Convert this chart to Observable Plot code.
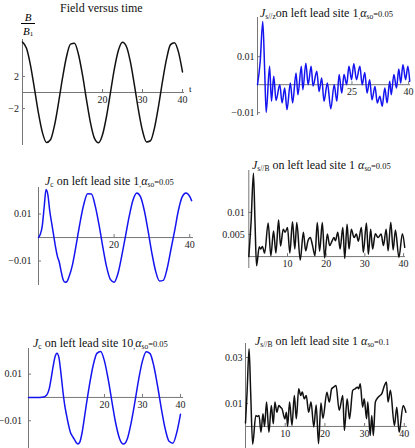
<!DOCTYPE html>
<html><head><meta charset="utf-8">
<script src="https://cdn.jsdelivr.net/npm/d3@7"></script>
<script src="https://cdn.jsdelivr.net/npm/@observablehq/plot@0.6"></script>
<style>
body{margin:0;background:#fff;}
#root{position:relative;width:415px;height:448px;overflow:hidden;font-family:"Liberation Serif","Times New Roman",Times,serif;color:#000;}
.panel{position:absolute;}
.title{position:absolute;white-space:nowrap;font-size:12px;line-height:14px;color:#111;}
.title sub{font-size:7.5px;vertical-align:-2px;line-height:0;}
.title .sm{font-size:8.5px;}
.frac{position:absolute;font-size:11px;line-height:11px;text-align:center;}
.frac sub{font-size:7px;vertical-align:-1px;line-height:0;}
.lab{position:absolute;font-size:9px;line-height:10px;}
</style></head><body><div id="root"></div>
<script>
// ---- data ----
const fieldT = [0,1,2,3,4,5,6,7,8,9,10,11,12,13,14,15,16,17,18,19,20,21,22,23,24,25,26,27,28,29,30,31,32,33,34,35,36,37,38,39,40];
const fieldB = [6.28,5.51,3.39,0.44,-2.61,-5.03,-6.22,-5.88,-4.10,-1.32,1.78,4.45,6.03,6.13,4.73,2.18,-0.91,-3.78,-5.72,-6.26,-5.27,-2.99,0.03,3.04,5.30,6.27,5.70,3.74,0.86,-2.23,-4.77,-6.15,-6.01,-4.41,-1.73,1.38,4.15,5.96,6.21,5.03,2.56];

const jszSite1 = [[0,0],[0.7,0.008],[1.4,0.0226],[1.9,0.005],[2.3,-0.0099],[3.2,0.0066],[3.7,-0.0059],[4.3,0.003],[4.9,-0.0056],[5.9,0],[6.5,-0.0065],[7.2,-0.0012],[7.8,-0.0089],[8.7,0.0006],[9.3,-0.0065],[10.2,0.0042],[10.7,-0.0036],[11.6,0.0066],[12.0,-0.0018],[12.8,0.0077],[13.4,0],[14.2,0.0066],[14.7,-0.0005],[15.7,0.0048],[16.3,-0.0024],[17.0,0.0024],[17.6,-0.0059],[18.5,0.0006],[19.4,-0.0086],[20.3,0],[21.0,-0.0059],[21.6,0.0036],[22.3,-0.003],[22.9,0.0036],[23.6,0],[24.2,0.0066],[24.9,0.0018],[25.5,0.0075],[26.2,0.0018],[27.1,0.0066],[27.7,0],[28.4,0.0044],[29.0,-0.003],[29.7,0.0018],[30.3,-0.0054],[31.1,-0.0006],[31.7,-0.0065],[32.4,-0.0041],[33.0,-0.0077],[33.7,-0.0012],[34.3,-0.0065],[35.0,0.0012],[35.4,-0.0036],[36.1,0.0036],[36.8,-0.0012],[37.4,0.0056],[37.9,0.0006],[38.5,0.0071],[39.2,0.0018],[39.8,0.0066],[40.3,0.0012]];

const jcSite1 = [[0,0],[0.5,0.0015],[1,0.005],[1.5,0.013],[2,0.0204],[2.5,0.018],[3,0.011],[3.5,0.006],[4,0.001],[4.5,-0.004],[5,-0.008],[5.5,-0.0105],[6,-0.0145],[6.5,-0.0178],[7,-0.019],[7.5,-0.0188],[8,-0.017],[9,-0.0115],[10,-0.0028],[11,0.0065],[12,0.0143],[13,0.0186],[14,0.0185],[15,0.0135],[16,0.0055],[17,-0.0039],[18,-0.0124],[19,-0.0178],[20,-0.019],[21,-0.0154],[22,-0.008],[23,0.0005],[24,0.0091],[25,0.016],[26,0.019],[27,0.0173],[28,0.0114],[29,0.0027],[30,-0.0067],[31,-0.0144],[32,-0.0185],[33,-0.0182],[34,-0.0134],[35,-0.0053],[36,0.0028],[37,0.0115],[38,0.0173],[39,0.019],[40,0.0175],[40.5,0.0157]];

const jsbSite1a = [[0,0],[0.6,0.008],[1.2,0.0189],[1.6,0.008],[2.0,-0.0021],[2.7,0.0022],[3.1,0.0017],[3.5,0.0023],[4.1,0.0008],[5.0,0.0076],[5.7,0.0002],[6.4,0.0058],[7.0,0.0008],[7.7,0.0083],[8.2,0.0024],[8.9,0.0062],[9.4,0.0055],[10.0,0.0066],[10.6,0.0008],[11.3,0.0079],[11.9,0.0017],[12.4,0.0077],[13.3,-0.0008],[14.1,0.0055],[14.7,0.0013],[15.3,0.0036],[15.9,0.0043],[16.4,0.0028],[17.1,0.0002],[17.7,0.0077],[18.3,0.0012],[19.0,0.0077],[19.6,-0.0003],[20.3,0.0051],[20.9,0.0025],[21.5,0.0035],[22.0,0.0043],[22.4,0.0036],[23.0,0.0055],[23.6,0.0017],[24.3,0.0066],[24.8,-0.0004],[25.4,0.0073],[25.9,0.0017],[26.5,0.0062],[27.2,0.0043],[27.8,0.0051],[28.3,0.0035],[29.1,0.0066],[29.6,0.0009],[30.4,0.0076],[30.9,0.0005],[31.5,0.0062],[32.0,0.0017],[32.7,0.0052],[33.4,0.0043],[34.2,0.0051],[34.8,0.0025],[35.5,0.0062],[36.0,0.0013],[36.7,0.0078],[37.3,0.0015],[37.9,0.006],[38.8,-0.0002],[39.7,0.0052],[40.3,0.0021]];

const jcSite10 = [[0,0],[1,0],[2,0],[3,0],[4,0.0002],[4.5,0.0006],[5,0.0016],[5.5,0.004],[6,0.0085],[6.5,0.0135],[7,0.0175],[7.5,0.019],[8,0.0172],[8.5,0.011],[9,0.0035],[9.5,-0.003],[10,-0.0075],[10.5,-0.0115],[11,-0.0148],[11.5,-0.0165],[12,-0.0178],[12.5,-0.0192],[13,-0.02],[13.5,-0.0192],[14,-0.016],[15,-0.0055],[16,0.0049],[17,0.0136],[18,0.0189],[19,0.0197],[20,0.0156],[21,0.0076],[22,-0.0022],[23,-0.0114],[24,-0.0178],[25,-0.02],[26,-0.0178],[27,-0.011],[28,-0.002],[29,0.0078],[30,0.0157],[31,0.0196],[32,0.0188],[33,0.0134],[34,0.0047],[35,-0.0051],[36,-0.0136],[37,-0.0188],[38,-0.0196],[39,-0.0152],[40,-0.0072]];

const jsbSite1b = [[0,0.0015],[0.4,0.015],[0.9,0.0338],[1.3,0.015],[1.8,-0.0078],[2.6,0.0048],[3.0,0.0043],[3.4,0.0048],[3.9,-0.0025],[4.4,0.0055],[4.8,0],[5.3,0.0106],[5.9,-0.0025],[6.5,0.0091],[7.0,0.0012],[7.4,0.0106],[7.9,0.0062],[8.4,0.0091],[8.8,0.0084],[9.2,0.0077],[9.9,0.0033],[10.3,0.0062],[10.6,0.0],[11.1,0.0106],[11.7,0.0004],[12.3,0.0135],[12.8,0.0033],[13.4,0.0164],[13.9,0.0135],[14.3,0.015],[14.8,0.012],[15.3,0.0135],[15.9,0.0062],[16.5,0.0106],[17.2,-0.0002],[17.8,0.0093],[18.4,-0.0075],[19.0,0.0102],[19.5,0.0035],[20.5,0.0149],[21.1,0.0106],[21.7,0.0164],[22.2,0.0171],[22.8,0.0178],[23.6,0.007],[24.5,0.0135],[24.9,-0.0017],[25.6,0.012],[26.2,0.0033],[27.0,0.0157],[27.6,0.0164],[28.2,0.0171],[28.5,0.0164],[28.9,0.0186],[29.5,0.0084],[29.9,0.012],[30.5,0.0033],[30.8,0.0106],[31.4,-0.0039],[31.8,0.0048],[32.2,-0.0039],[32.7,0.0106],[33.3,0.0125],[33.9,0.0135],[34.3,0.0142],[35.0,0.0178],[35.5,0.0193],[35.9,0.0106],[36.5,0.0157],[37.5,0.0004],[38.1,0.0084],[38.7,-0.0025],[39.7,0.0091],[40.4,0.0062]];

// tick labels
const p1XTicks = [20,30,40], p1YTicks = [2,-2];
const p2XTicks = [25,40], p2YTicks = [0.01,-0.01];
const p3XTicks = [20,40], p3YTicks = [0.01,-0.01];
const p4XTicks = [10,20,30,40], p4YTicks = [0.01,0.005];
const p5XTicks = [20,30,40], p5YTicks = [0.01,-0.01];
const p6XTicks = [10,20,30,40], p6YTicks = [0.03,0.01];

// ---- drawing ----
const AX = "#777", LAB = "#222", FONT = "Liberation Serif";
const fmt = d => String(d).replace("-", "\u2212");

function panel(o) {
  const marks = [
    Plot.ruleY([0], {stroke: AX, strokeWidth: 1}),
    Plot.ruleX([0], {stroke: AX, strokeWidth: 1}),
    Plot.ruleX(o.xt, {x: d => d, y1: () => 0, y2: () => 0, insetTop: -3, stroke: AX}),
    Plot.ruleY(o.yt, {y: d => d, x1: () => 0, x2: () => 0, insetRight: -3, stroke: AX}),
    Plot.text(o.xt, {x: d => d, y: () => 0, dy: 7.5, text: fmt, fontFamily: FONT, fontSize: 10, fill: LAB}),
    Plot.text(o.yt, {x: () => 0, y: d => d, dx: -o.ydx, textAnchor: "end", text: fmt, fontFamily: FONT, fontSize: 10, fill: LAB}),
    Plot.line(o.data, {x: d => d[0], y: d => d[1], stroke: o.color, strokeWidth: 1.5, curve: "monotone-x"})
  ];
  const svg = Plot.plot({
    width: o.w, height: o.h,
    marginTop: o.mt, marginBottom: o.mb, marginLeft: o.ml, marginRight: o.mr,
    x: {domain: o.xd, axis: null},
    y: {domain: o.yd, axis: null},
    style: {background: "transparent", overflow: "visible"},
    marks
  });
  svg.classList.add("panel");
  svg.style.left = o.left + "px";
  svg.style.top = o.top + "px";
  svg.style.position = "absolute";
  return svg;
}

const root = document.getElementById("root");
const fieldData = fieldT.map((t, i) => [t, fieldB[i]]);

root.append(panel({data: fieldData, color: "#111", left: 0, top: 0, w: 207, h: 150, ml: 22, mr: 23, mt: 39, mb: 5, xd: [0, 40.5], yd: [-6.6, 6.6], xt: p1XTicks, yt: p1YTicks, ydx: 3.5}));
root.append(panel({data: jszSite1, color: "#1414f0", left: 207, top: 0, w: 208, h: 150, ml: 50, mr: 5, mt: 17, mb: 35, xd: [0, 40.5], yd: [-0.011, 0.024], xt: p2XTicks, yt: p2YTicks, ydx: 3}));
root.append(panel({data: jcSite1, color: "#1414f0", left: 0, top: 150, w: 207, h: 150, ml: 38, mr: 14, mt: 37, mb: 15, xd: [0, 41], yd: [-0.0204, 0.0213], xt: p3XTicks, yt: p3YTicks, ydx: 7}));
root.append(panel({data: jsbSite1a, color: "#111", left: 207, top: 150, w: 208, h: 150, ml: 41.3, mr: 10, mt: 20, mb: 32, xd: [0, 40.5], yd: [-0.0027, 0.0195], xt: p4XTicks, yt: p4YTicks, ydx: 4}));
root.append(panel({data: jcSite10, color: "#1414f0", left: 0, top: 300, w: 207, h: 148, ml: 28, mr: 24, mt: 48, mb: 0, xd: [0, 40.8], yd: [-0.0219, 0.021], xt: p5XTicks, yt: p5YTicks, ydx: 6.5}));
root.append(panel({data: jsbSite1b, color: "#111", left: 207, top: 300, w: 208, h: 148, ml: 38, mr: 8, mt: 43, mb: 0, xd: [0, 40.8], yd: [-0.0096, 0.0361], xt: p6XTicks, yt: p6YTicks, ydx: 3}));

// ---- titles & labels ----
function addHTML(cls, left, top, html, extra) {
  const d = document.createElement("div");
  d.className = cls;
  d.style.left = left + "px";
  d.style.top = top + "px";
  if (extra) Object.assign(d.style, extra);
  d.innerHTML = html;
  root.append(d);
  return d;
}
addHTML("title", 60, 1, "Field versus time", {fontSize: "12px"});
addHTML("frac", 21, 12, '<div style="padding:0 2px"><i>B</i></div><div style="border-top:1px solid #000;padding:2px 2px 0"><i>B</i><sub>1</sub></div>');
addHTML("lab", 189, 84, "t");
addHTML("title", 260, 6, '<i>J</i><sub>s//z</sub>on left lead site 1<sub>,</sub><i>α</i><sub>so</sub><span class="sm">=0.05</span>');
addHTML("title", 45, 174, '<i>J</i><sub>c</sub> on left lead site 1<sub>,</sub><i>α</i><sub>so</sub><span class="sm">=0.05</span>');
addHTML("title", 252, 158, '<i>J</i><sub>s//B</sub> on left lead site 1 <i>α</i><sub>so</sub><span class="sm">=0.05</span>');
addHTML("title", 33, 336, '<i>J</i><sub>c</sub> on left lead site 10<sub>,</sub><i>α</i><sub>so</sub><span class="sm">=0.05</span>');
addHTML("title", 255, 334, '<i>J</i><sub>s//B</sub> on left lead site 1 <i>α</i><sub>so</sub><span class="sm">=0.1</span>');
</script></body></html>
